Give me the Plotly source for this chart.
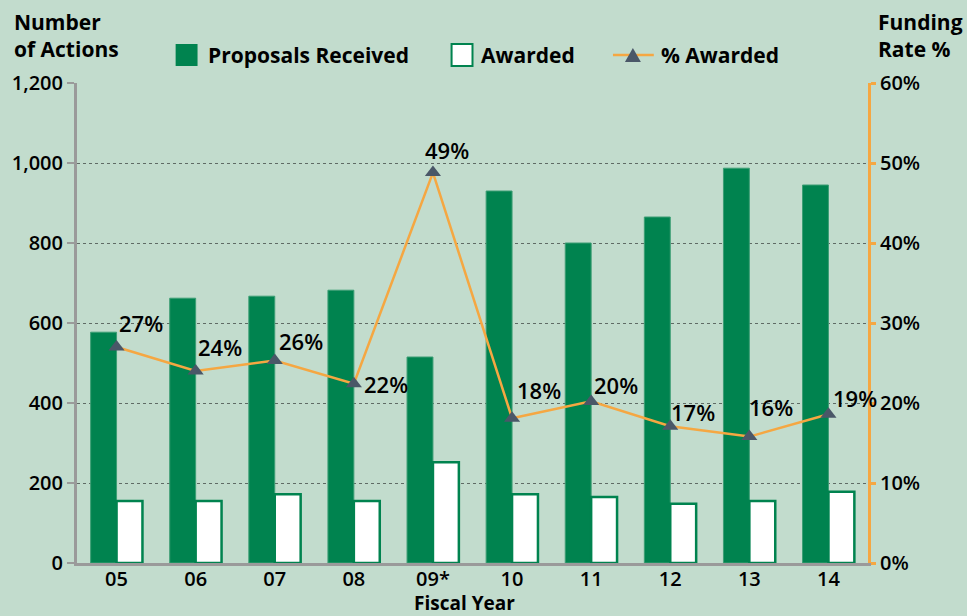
import plotly.graph_objects as go

years = ["05", "06", "07", "08", "09*", "10", "11", "12", "13", "14"]
proposals = [577, 662, 667, 682, 515, 930, 800, 865, 987, 945]
awarded = [155, 155, 172, 155, 252, 172, 165, 148, 155, 178]
pct_awarded = [27.0, 24.0, 25.3, 22.4, 48.8, 18.1, 20.2, 17.1, 15.8, 18.6]
pct_labels = ["27%", "24%", "26%", "22%", "49%", "18%", "20%", "17%", "16%", "19%"]

# label offsets in pixels (style only)
lab_dx = [0, 0, 2, 8, 14, 3, 1, -1, -2, 3]
lab_dy = [24, 24, 20, 0, 23, 28, 16, 14, 30, 16]
lab_anchor = ["left", "left", "left", "left", "center", "left", "left", "left", "left", "left"]

BG = "#c2dccd"
GREEN = "#00834f"
ORANGE = "#f5a742"
MARK = "#4a5768"
FONT = "Open Sans"

W, H = 967, 616
L, R, T, B = 74, 99, 83, 53
PW, PH = W - L - R, H - T - B


def px(x):
    return (x - L) / PW


def py(y):
    return (H - B - y) / PH


fig = go.Figure()
fig.add_trace(go.Bar(x=years, y=proposals, name="Proposals Received",
                     marker=dict(color=GREEN, line=dict(color="#3c9e74", width=1))))
fig.add_trace(go.Bar(x=years, y=awarded, name="Awarded",
                     marker=dict(color="white", line=dict(color=GREEN, width=2.5))))
fig.add_trace(go.Scatter(x=years, y=pct_awarded, name="% Awarded", yaxis="y2",
                         mode="lines+markers",
                         line=dict(color=ORANGE, width=2.5),
                         marker=dict(symbol="triangle-up", size=14, color=MARK)))

# data labels (x given as category index so "05" etc. are not parsed as numbers)
for i, (v, t, dx, dy, anc) in enumerate(zip(pct_awarded, pct_labels, lab_dx, lab_dy, lab_anchor)):
    fig.add_annotation(x=i, y=v, xref="x", yref="y2", text=t, showarrow=False,
                       xanchor=anc, yanchor="middle", xshift=dx, yshift=dy,
                       font=dict(size=22, weight=600, color="black"))

fig.update_layout(
    width=W, height=H,
    paper_bgcolor=BG, plot_bgcolor=BG,
    margin=dict(l=L, r=R, t=T, b=B),
    barmode="group", bargap=0.345, bargroupgap=0,
    font=dict(family=FONT, size=20, color="black", weight=600),
    showlegend=False,
    xaxis=dict(type="category", showline=True, linecolor="#9a9a9a", linewidth=3,
               ticks="", ticklen=0, ticklabelstandoff=-4,
               tickfont=dict(size=20, weight=600), range=[-0.5, 9.5]),
    yaxis=dict(range=[0, 1200], dtick=200, tickformat=",", showline=True,
               linecolor="#9a9a9a", linewidth=3, ticks="outside", ticklen=7,
               tickcolor="#9a9a9a", tickwidth=2,
               showgrid=True, gridcolor="#5f6b65", griddash="dot", gridwidth=1,
               zeroline=False, tickfont=dict(size=20, weight=600)),
    yaxis2=dict(range=[0, 60], dtick=10, ticksuffix="%", overlaying="y", side="right",
                showline=True, linecolor=ORANGE, linewidth=3, ticks="outside", ticklen=5,
                tickcolor=ORANGE, tickwidth=3, showgrid=False, zeroline=False,
                tickfont=dict(size=20, weight=600)),
)

# axis titles
fig.add_annotation(text="Number<br>of Actions", xref="paper", yref="paper",
                   x=px(9), y=py(6), xanchor="left", yanchor="top", align="left",
                   showarrow=False, font=dict(size=21, weight=700))
fig.add_annotation(text="Funding<br>Rate %", xref="paper", yref="paper",
                   x=px(876), y=py(6), xanchor="left", yanchor="top", align="left",
                   showarrow=False, font=dict(size=21, weight=700))
fig.add_annotation(text="Fiscal Year", xref="paper", yref="paper",
                   x=px(463), y=py(603), xanchor="center", yanchor="middle",
                   showarrow=False, font=dict(size=19, weight=700))

# custom legend
leg_y = 55
fig.add_shape(type="rect", xref="paper", yref="paper",
              x0=px(173), x1=px(195), y0=py(66), y1=py(44),
              fillcolor=GREEN, line=dict(width=0))
fig.add_annotation(text="Proposals Received", xref="paper", yref="paper",
                   x=px(203), y=py(leg_y), xanchor="left", yanchor="middle",
                   showarrow=False, font=dict(size=21, weight=700))
fig.add_shape(type="rect", xref="paper", yref="paper",
              x0=px(450), x1=px(471), y0=py(66), y1=py(44),
              fillcolor="white", line=dict(color=GREEN, width=2))
fig.add_annotation(text="Awarded", xref="paper", yref="paper",
                   x=px(478), y=py(leg_y), xanchor="left", yanchor="middle",
                   showarrow=False, font=dict(size=21, weight=700))
fig.add_shape(type="line", xref="paper", yref="paper",
              x0=px(612), x1=px(653), y0=py(leg_y), y1=py(leg_y),
              line=dict(color=ORANGE, width=2.5))
fig.add_shape(type="path", xref="paper", yref="paper",
              path=f"M {px(624)},{py(62)} L {px(640)},{py(62)} L {px(632)},{py(48)} Z",
              fillcolor=MARK, line=dict(width=0))
fig.add_annotation(text="% Awarded", xref="paper", yref="paper",
                   x=px(658), y=py(leg_y), xanchor="left", yanchor="middle",
                   showarrow=False, font=dict(size=21, weight=700))

fig.write_html("out.html", config={"displayModeBar": False},
               post_script="document.body.style.margin='0';")
